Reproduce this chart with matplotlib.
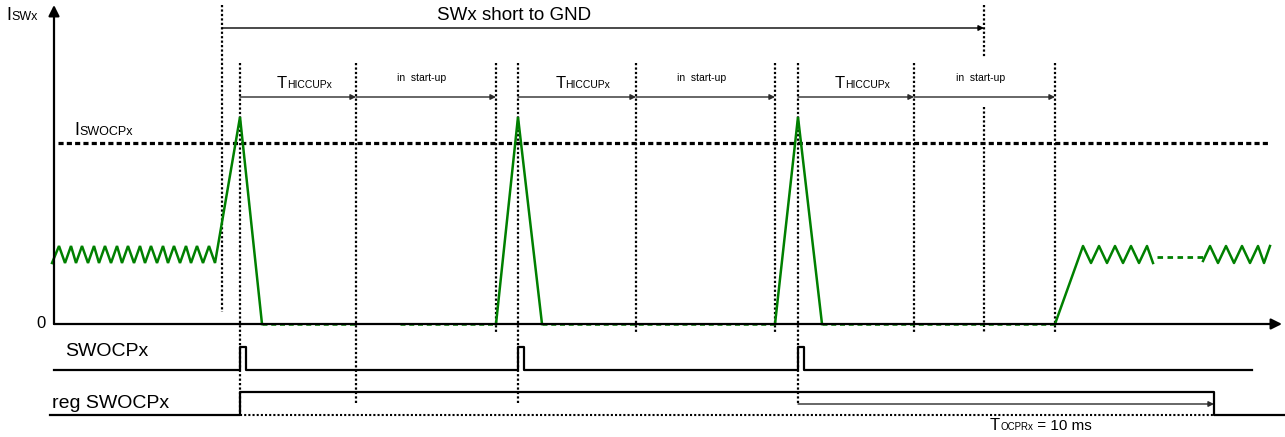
import matplotlib
matplotlib.use('Agg')
import matplotlib.pyplot as plt
from matplotlib.offsetbox import TextArea, HPacker, AnnotationBbox

plt.rcParams['font.family'] = ['Liberation Sans', 'DejaVu Sans']

# ---------------- data (time in arbitrary units, current in arbitrary units) ----------------
t_axis = 54
t_axis_end = 1282
t_short = [222, 984]                 # SWx short to GND start / end
t_ocp = [240, 518, 798]              # over-current events (peaks)
t_fall = [262, 542, 822]             # current back to zero
t_hiccup_end = [356, 636, 914]       # end of T_HICCUPx
t_startup_end = [496, 775, 1055]     # end of start-up
t_ocpr_end = 1214                    # end of T_OCPRx (10 ms)
t_sig_end = 1252

i_ripple_lo = 61
i_ripple_hi = 78
i_mid = 67
i_peak = 207
i_swocp = 181

# ripple vertices (alternating lo/hi)
ripple_left_t = [52, 59, 65, 71, 76, 82, 88, 94, 99, 105, 111, 117, 122, 128, 134,
                 140, 145, 151, 157, 163, 168, 174, 180, 186, 191, 197, 203, 209, 215]
ripple_right1_t = [1083, 1091, 1099, 1107, 1115, 1123, 1131, 1139, 1147, 1153]
ripple_right2_t = [1210, 1218, 1226, 1234, 1242, 1250, 1258, 1264, 1270]
gap_t = [1157, 1203]
baseline_green = [(262, 356), (400, 496), (542, 775), (822, 1055)]

# digital signal levels
swocp_lo, swocp_hi = -46, -23
reg_lo, reg_hi = -91, -68
pulse_w = 6

GREEN = '#008000'

fig = plt.figure(figsize=(12.85, 4.37), dpi=100)
ax = fig.add_axes([0, 0, 1, 1])
ax.set_xlim(0, 1285)
ax.set_ylim(-113, 324)
ax.axis('off')

dot = (0, (1, 1))

# ---------------- axes arrows ----------------
arr_k = dict(arrowstyle='-|>', lw=1.6, color='black', mutation_scale=16, shrinkA=0, shrinkB=0)
ax.annotate('', xy=(t_axis, 319), xytext=(t_axis, 0), arrowprops=arr_k)
ax.annotate('', xy=(t_axis_end, 0), xytext=(t_axis, 0), arrowprops=arr_k)


def sub_text(x, y, parts, align=(0.5, 0.0)):
    areas = [TextArea(s, textprops=dict(fontsize=fs, color='black')) for s, fs in parts]
    box = HPacker(children=areas, align='baseline', pad=0, sep=0)
    ab = AnnotationBbox(box, (x, y), xycoords='data', frameon=False,
                        box_alignment=align, pad=0)
    ax.add_artist(ab)


sub_text(6, 300, [('I', 13), ('SWx', 9)], align=(0, 0))
sub_text(74, 185, [('I', 13), ('SWOCPx', 9)], align=(0, 0))
ax.text(46, 0, '0', fontsize=12, ha='right', va='center')

# ---------------- threshold ----------------
ax.plot([58, 1270], [i_swocp, i_swocp], color='black', lw=2.3, linestyle=(0, (1.6, 1)))

# ---------------- dotted verticals ----------------
def vdot(x, y0, y1):
    ax.plot([x, x], [y0, y1], color='black', lw=1.6, linestyle=dot)

vdot(t_short[0], 319, 12)
vdot(t_short[1], 319, 267)
vdot(t_short[1], 217, -9)
for k, t in enumerate(t_ocp):
    vdot(t, 261, -89 if k == 0 else -81)
for k, t in enumerate(t_hiccup_end):
    vdot(t, 261, -81 if k == 0 else -9)
for t in t_startup_end:
    vdot(t, 261, -9)

# ---------------- time arrows ----------------
arr_g = dict(arrowstyle='-|>', lw=1.0, color='#2a2a2a', mutation_scale=8, shrinkA=0, shrinkB=0)
ax.annotate('', xy=(t_short[1], 296), xytext=(t_short[0], 296),
            arrowprops=dict(arr_g, color='black'))
ax.text(514, 309, 'SWx short to GND', fontsize=13.5, ha='center', va='center')
for a, b, c in zip(t_ocp, t_hiccup_end, t_startup_end):
    ax.annotate('', xy=(b, 227), xytext=(a, 227), arrowprops=arr_g)
    ax.annotate('', xy=(c, 227), xytext=(b, 227), arrowprops=arr_g)
    sub_text((a + b) / 2 + 6, 233, [('T', 12), ('HICCUPx', 7.5)])
    ax.text((b + c) / 2 - 4, 246, 'in  start-up', fontsize=7.5, ha='center', va='center')

# ---------------- green current ----------------
rl_y = [i_ripple_lo if k % 2 == 0 else i_ripple_hi for k in range(len(ripple_left_t))]
cur_t = ripple_left_t + [t_ocp[0], t_fall[0]]
cur_y = rl_y + [i_peak, 0]
ax.plot(cur_t, cur_y, color=GREEN, lw=1.8, solid_joinstyle='miter')
for k in (1, 2):
    ax.plot([t_startup_end[k - 1], t_ocp[k], t_fall[k]], [0, i_peak, 0],
            color=GREEN, lw=1.8, solid_joinstyle='miter')
for a, b in baseline_green:
    ax.plot([a, b], [0, 0], color=GREEN, lw=1.8, linestyle=(0, (2, 1.5)))
r1_y = [i_ripple_hi if k % 2 == 0 else i_ripple_lo for k in range(len(ripple_right1_t))]
ax.plot([t_startup_end[2]] + ripple_right1_t, [0] + r1_y, color=GREEN, lw=1.8)
ax.plot(gap_t, [i_mid, i_mid], color=GREEN, lw=2, linestyle=(0, (2, 1.6)))
r2_y = [i_ripple_hi if k % 2 == 0 else i_ripple_lo for k in range(len(ripple_right2_t))]
ax.plot([gap_t[1]] + ripple_right2_t, [i_mid - 4] + r2_y, color=GREEN, lw=1.8)

# ---------------- SWOCPx ----------------
sx, sy = [t_axis], [swocp_lo]
for t in t_ocp:
    sx += [t, t, t + pulse_w, t + pulse_w]
    sy += [swocp_lo, swocp_hi, swocp_hi, swocp_lo]
sx.append(t_sig_end)
sy.append(swocp_lo)
ax.plot(sx, sy, color='black', lw=1.6)
ax.text(65, -28, 'SWOCPx', fontsize=14, ha='left', va='center')

# ---------------- reg SWOCPx ----------------
ax.plot([50, t_ocp[0], t_ocp[0], t_ocpr_end, t_ocpr_end, 1285],
        [reg_lo, reg_lo, reg_hi, reg_hi, reg_lo, reg_lo], color='black', lw=1.6)
ax.plot([t_ocp[0], t_ocpr_end], [reg_lo, reg_lo], color='black', lw=1.5, linestyle=dot)
ax.text(52, -79, 'reg SWOCPx', fontsize=14, ha='left', va='center')
ax.annotate('', xy=(t_ocpr_end, -80), xytext=(t_ocp[2], -80), arrowprops=arr_g)
sub_text(990, -109, [('T', 12), ('OCPRx', 7), (' = 10 ms', 11)], align=(0, 0))

fig.savefig('out.png', dpi=100)
